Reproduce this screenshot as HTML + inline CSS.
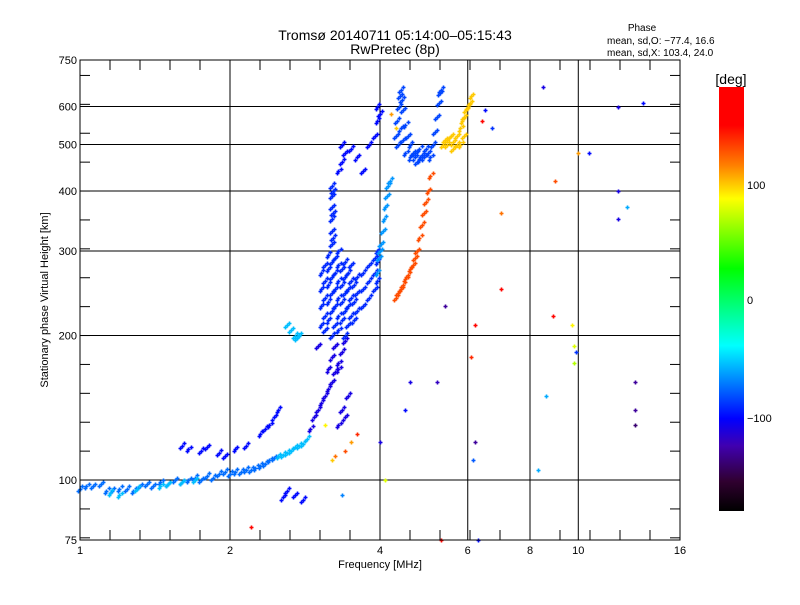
<!DOCTYPE html>
<html><head><meta charset="utf-8"><style>
body{margin:0;background:#fff}
svg text{font-family:"Liberation Sans",sans-serif;fill:#000}
</style></head><body>
<svg id="chart" width="800" height="600" xmlns="http://www.w3.org/2000/svg">
<rect width="800" height="600" fill="#fff"/>
<text x="395" y="40" font-size="14" text-anchor="middle">Tromsø 20140711 05:14:00–05:15:43</text>
<text x="395" y="54" font-size="14" text-anchor="middle">RwPretec (8p)</text>
<g font-size="10">
<text x="642" y="31" text-anchor="middle">Phase</text>
<text x="607" y="44">mean, sd,O: −77.4, 16.6</text>
<text x="607" y="56">mean, sd,X: 103.4, 24.0</text>
</g>
<g id="grid"></g>
<g id="points"></g>
<rect x="80" y="60" width="600" height="480" fill="none" stroke="#000" stroke-width="1"/>
<g id="ticks"></g>
<text x="380" y="568" font-size="11" text-anchor="middle">Frequency [MHz]</text>
<text x="48" y="300" font-size="11" text-anchor="middle" transform="rotate(-90 48 300)">Stationary phase Virtual Height [km]</text>
<defs><linearGradient id="cb" x1="0" y1="0" x2="0" y2="1">
<stop offset="0" stop-color="#f00"/><stop offset="0.09" stop-color="#f00"/>
<stop offset="0.185" stop-color="#ff8000"/><stop offset="0.263" stop-color="#ff0"/>
<stop offset="0.428" stop-color="#0f0"/><stop offset="0.61" stop-color="#0ff"/>
<stop offset="0.782" stop-color="#00f"/><stop offset="0.846" stop-color="#4000b0"/>
<stop offset="0.93" stop-color="#300030"/><stop offset="1" stop-color="#000"/>
</linearGradient></defs>
<rect x="719" y="87" width="25" height="424" fill="url(#cb)"/>
<text x="731" y="84" font-size="14" text-anchor="middle">[deg]</text>
<g font-size="11">
<text x="747" y="189">100</text><text x="747" y="304">0</text><text x="747" y="422">−100</text>
</g>
</svg>
<script>
const xTickValues=[1,2,4,6,8,10,16];
const xTickLabels=["1","2","4","6","8","10","16"];
const xGridValues=[2,4,6,8,10];
const yTickValues=[75,100,200,300,400,500,600,750];
const yTickLabels=["75","100","200","300","400","500","600","750"];
const yGridValues=[100,200,300,400,500,600];

const lowOF=[1.0,1.03,1.06,1.1,1.13,1.16,1.2,1.24,1.28,1.32,1.36,1.4,1.45,1.5,1.55,1.6,1.65,1.7,1.75,1.8,1.85,1.9,1.95,2.0,2.05,2.1,2.15,2.2,2.25,2.3,2.35,2.4,2.45];
const lowOH=[96,97,97,98,95,95,96,96,95,97,98,97,99,98,100,99,100,101,100,102,101,103,104,103,104,104,105,105,106,107,108,110,111];
const lowOPhase=-75;
const cyanF=[2.5,2.55,2.6,2.65,2.7,2.75,2.8,2.85,1.15,1.2,1.3,1.45,1.5,1.6,1.7,2.6,2.65,2.7,2.75,2.72];
const cyanH=[112,113,114,115,117,118,119,122,94,93,96,97,98,99,100,210,205,200,200,198];
const cyanPhase=-55;
const upperF=[1.6,1.65,1.75,1.8,1.9,1.95,2.05,2.15,2.3,2.35,2.4,2.45,2.5,2.55,2.6,2.7,2.8];
const upperH=[118,116,115,117,114,112,116,118,125,128,130,135,140,92,95,93,91];
const upperPhase=-100;
const steepF=[2.9,2.95,3.0,3.05,3.1,3.15,3.2,3.25,3.3,3.35,3.4,3.3,3.35,3.4,3.45,3.2,3.3,3.25,3.15,3.0];
const steepH=[128,135,140,145,150,155,160,168,175,185,195,130,140,135,150,180,170,190,170,190];
const steepPhase=-110;
const cloudF=[3.05,3.05,3.05,3.05,3.1,3.1,3.1,3.1,3.1,3.15,3.15,3.15,3.15,3.15,3.2,3.2,3.2,3.2,3.2,3.25,3.25,3.25,3.25,3.25,3.3,3.3,3.3,3.3,3.3,3.3,3.35,3.35,3.35,3.35,3.4,3.4,3.4,3.4,3.4,3.45,3.45,3.45,3.45,3.5,3.5,3.5,3.5,3.55,3.55,3.55,3.6,3.6,3.6,3.7,3.7,3.7,3.8,3.8,3.8,3.9,3.9,3.9,3.95,3.95,3.95,3.2,3.2,3.2,3.2,3.2,3.2,3.22,3.22,3.22];
const cloudH=[210,230,250,270,205,220,240,260,280,215,235,255,275,295,200,225,245,265,285,210,230,250,270,290,205,220,240,260,280,300,215,235,255,275,200,225,245,265,285,210,230,250,270,220,240,260,280,215,235,255,225,245,265,230,250,270,240,260,280,250,270,290,260,285,300,310,330,350,370,390,410,320,360,400];
const cloudPhase=-92;
const lightF=[3.95,3.98,4.0,4.02,4.05,4.08,4.1,4.13,4.15,4.18];
const lightH=[270,290,300,310,330,350,370,390,410,420];
const lightPhase=-65;
const highF=[3.3,3.35,3.4,3.35,3.5,3.6,3.8,3.9,3.95,4.0,3.95,3.7];
const highH=[440,460,480,500,490,470,500,520,560,580,600,440];
const highPhase=-100;
const cuspF=[4.3,4.33,4.36,4.38,4.4,4.42,4.45,4.5,4.55,4.6,4.65,4.7,4.75,4.8,4.9,5.0,5.1,5.15,5.2,5.25,5.28,5.3,4.35,4.4,4.45,4.5,4.6,4.7,4.8,4.85,4.95,5.05];
const cuspH=[520,560,600,630,650,620,590,550,520,500,480,470,460,465,470,480,500,530,570,610,640,650,500,540,510,480,470,480,490,475,490,470];
const cuspPhase=-85;
const yellowF=[5.35,5.4,5.5,5.6,5.7,5.8,5.85,5.9,5.95,6.0,6.05,6.1,5.6,5.7,5.45,5.55,5.8,5.9];
const yellowH=[500,510,515,505,520,540,560,570,590,600,610,630,490,500,500,520,500,520];
const yellowPhase=100;
const xTraceF=[4.3,4.35,4.4,4.45,4.5,4.55,4.6,4.65,4.7,4.75,4.8,4.85,4.9,4.95,5.0,5.05];
const xTraceH=[240,245,250,255,262,268,275,280,290,300,320,340,360,380,400,430];
const xTracePhase=130;
const scatterF=[3.4,3.5,3.6,3.2,3.25,3.1,3.35,6.2,6.1,6.2,6.15,8.5,9.0,10,10.5,12,13.5,12,12.5,12,8.9,9.7,9.8,9.8,9.9,13,13,13,8.6,8.3,7.0,7.0,6.7,6.4,6.5,5.4,4.6,5.2,4.5,4.0,4.1,5.3,2.2,6.3,4.2,4.3];
const scatterH=[115,120,125,110,112,130,93,210,180,120,110,660,420,480,480,600,610,400,370,350,220,210,190,175,185,160,140,130,150,105,360,250,540,560,590,230,160,160,140,120,100,75,80,75,580,540];
const scatterP=[130,110,140,100,120,90,-70,150,140,-130,-80,-110,130,110,-100,-110,-100,-110,-60,-110,150,90,80,70,-90,-130,-130,-140,-60,-60,120,150,-90,150,-100,-130,-110,-120,-100,-110,80,150,150,-100,110,100];

const X0=80,X1=680,Y0=540,Y1=60;
function xs(f){return X0+(Math.log(f)-Math.log(1))/(Math.log(16))*(X1-X0);}
function ys(h){return Y0-(Math.log(h)-Math.log(75))/(Math.log(10))*(Y0-Y1);}
const stopsP=[180,151,116,88,28,-39,-102,-125,-155,-180];
const stopsC=[[255,0,0],[255,0,0],[255,128,0],[255,255,0],[0,255,0],[0,255,255],[0,0,255],[64,0,176],[48,0,48],[0,0,0]];
function col(p){
  for(let i=0;i<stopsP.length-1;i++){
    if(p<=stopsP[i]&&p>=stopsP[i+1]){
      const t=(stopsP[i]-p)/(stopsP[i]-stopsP[i+1]);
      const c=stopsC[i].map((v,k)=>Math.round(v+(stopsC[i+1][k]-v)*t));
      return 'rgb('+c.join(',')+')';
    }
  }
  return p>0?'rgb(255,0,0)':'rgb(0,0,0)';
}
const NS='http://www.w3.org/2000/svg';
function mk(tag,attrs,parent){const e=document.createElementNS(NS,tag);for(const k in attrs)e.setAttribute(k,attrs[k]);parent.appendChild(e);return e;}
const grid=document.getElementById('grid'),ticks=document.getElementById('ticks'),pts=document.getElementById('points');
xGridValues.forEach(v=>{
  const l=mk('line',{x1:xs(v),x2:xs(v),y1:Y1,y2:Y0,stroke:'#000','stroke-width':1},grid);
  
  
});
yGridValues.forEach(v=>{
  const l=mk('line',{x1:X0,x2:X1,y1:ys(v),y2:ys(v),stroke:'#000','stroke-width':1},grid);
  
  
});
for(let k=0;k<=20;k++){
  const f=Math.pow(2,k/5); if(f>16)break;
  const x=xs(f);
  mk('line',{x1:x,x2:x,y1:Y0,y2:Y0-10,stroke:'#000'},ticks);
  mk('line',{x1:x,x2:x,y1:Y1,y2:Y1+10,stroke:'#000'},ticks);
}
for(let k=-2;k<=17;k++){
  const h=100*Math.pow(2,k/5); if(h<75||h>750)continue;
  const y=ys(h);
  mk('line',{x1:X0,x2:X0+10,y1:y,y2:y,stroke:'#000'},ticks);
  mk('line',{x1:X1,x2:X1-10,y1:y,y2:y,stroke:'#000'},ticks);
}
xTickValues.forEach((v,i)=>{
  const t=mk('text',{x:xs(v),y:Y0+14,'font-size':11,'text-anchor':'middle'},ticks);
  t.textContent=xTickLabels[i];
  
  
});
yTickValues.forEach((v,i)=>{
  const t=mk('text',{x:X0-3,y:ys(v)+4,'font-size':11,'text-anchor':'end'},ticks);
  t.textContent=yTickLabels[i];
  
  
});
function plus(f,h,p){
  const x=Math.round(xs(f))+0.5,y=Math.round(ys(h))+0.5,c=col(p);
  const g=mk('path',{d:`M${x-2} ${y}H${x+2}M${x} ${y-2}V${y+2}`,stroke:c,'stroke-width':1.6,fill:'none'},pts);
  
  
}
function trace(F,H,p){F.forEach((f,i)=>{plus(f,H[i],p);plus(f*1.01,H[i]*1.012,p);plus(f*0.992,H[i]*0.99,p);});}
trace(lowOF,lowOH,lowOPhase);
trace(cyanF,cyanH,cyanPhase);
trace(upperF,upperH,upperPhase);
trace(steepF,steepH,steepPhase);
trace(cloudF,cloudH,cloudPhase);
trace(lightF,lightH,lightPhase);
trace(highF,highH,highPhase);
trace(cuspF,cuspH,cuspPhase);
trace(yellowF,yellowH,yellowPhase);
trace(xTraceF,xTraceH,xTracePhase);
scatterF.forEach((f,i)=>plus(f,scatterH[i],scatterP[i]));
</script>
</body></html>
